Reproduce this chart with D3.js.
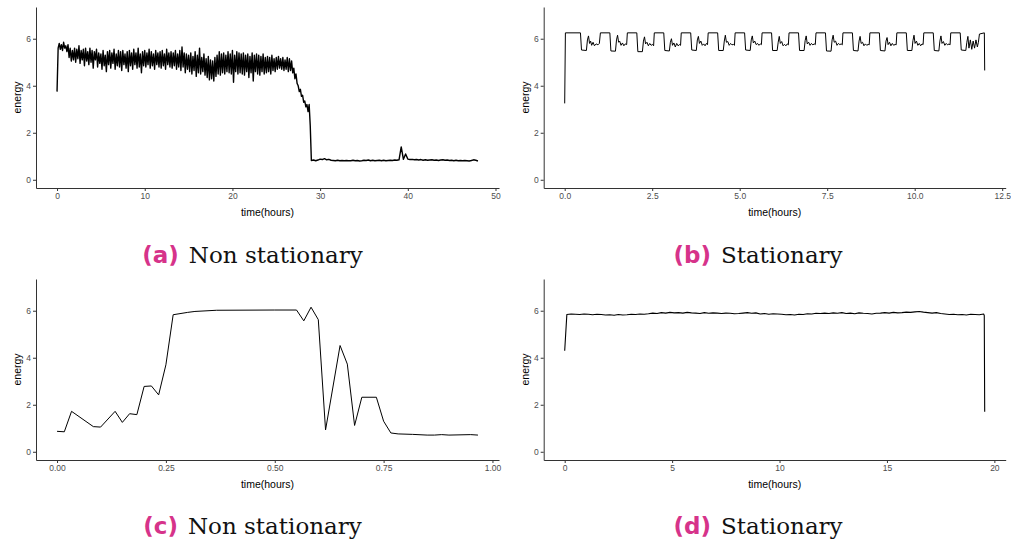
<!DOCTYPE html>
<html>
<head>
<meta charset="utf-8">
<script src="https://cdn.jsdelivr.net/npm/d3@7"></script>
<style>
  html, body { margin: 0; padding: 0; background: #fff; }
  svg { display: block; }
</style>
</head>
<body>
<svg id="chart" width="1011" height="544"></svg>
<script>
// ---------------- DATA ----------------
const yTicks = [0, 2, 4, 6];
const yLimits = [0, 7];

// (a) Non stationary: noisy part sampled every 0.125 h from t = 0
const aNoisyStep = 0.125;
const aNoisyEnergy = [
  3.75, 5.6, 5.8, 5.55, 5.75, 5.5, 5.85, 5.6,
  5.7, 5.45, 5.75, 5.2, 5.6, 5.05, 5.5, 5.1,
  5.6, 5.0, 5.55, 5.15, 5.7, 4.95, 5.5, 5.1,
  5.55, 4.85, 5.6, 5.05, 5.45, 4.9, 5.6, 5.0,
  5.5, 4.75, 5.45, 5.1, 5.55, 4.8, 5.4, 4.95,
  5.35, 4.7, 5.5, 4.85, 5.3, 4.6, 5.45, 4.9,
  5.5, 4.75, 5.4, 4.95, 5.55, 4.7, 5.35, 4.85,
  5.5, 4.8, 5.45, 4.65, 5.5, 4.9, 5.35, 4.75,
  5.45, 4.6, 5.5, 4.85, 5.4, 4.7, 5.55, 4.9,
  5.4, 4.75, 5.6, 4.8, 5.35, 4.55, 5.45, 4.85,
  5.5, 4.8, 5.4, 4.9, 5.55, 4.75, 5.45, 4.85,
  5.35, 4.7, 5.5, 4.9, 5.4, 4.8, 5.45, 4.75,
  5.5, 4.85, 5.35, 4.7, 5.55, 4.9, 5.4, 4.8,
  5.45, 4.75, 5.4, 4.85, 5.5, 4.7, 5.35, 4.8,
  5.5, 4.65, 5.65, 4.8, 5.4, 4.55, 5.35, 4.7,
  5.3, 4.6, 5.4, 4.5, 5.25, 4.65, 5.45, 4.4,
  5.3, 4.55, 5.6, 4.5, 5.2, 4.6, 5.35, 4.45,
  5.15, 4.35, 5.25, 4.25, 5.1, 4.3, 5.05, 4.2,
  5.2, 4.4, 5.3, 4.5, 5.45, 4.45, 5.35, 4.55,
  5.4, 4.5, 5.3, 4.6, 5.45, 4.55, 5.35, 4.5,
  5.5, 4.15, 5.3, 4.6, 5.45, 4.5, 5.4, 4.55,
  5.35, 4.5, 5.4, 4.45, 5.3, 4.6, 5.35, 4.35,
  5.25, 4.55, 5.4, 4.2, 5.3, 4.6, 5.35, 4.5,
  5.3, 4.45, 5.25, 4.6, 5.35, 4.5, 5.2, 4.55,
  5.25, 4.6, 5.2, 4.5, 5.3, 4.65, 5.15, 4.6,
  5.2, 4.7, 5.25, 4.75, 5.15, 4.7, 5.2, 4.65,
  5.1, 4.7, 5.2, 4.6, 5.15, 4.65, 5.05, 4.55,
  4.75, 4.3, 4.5, 4.1, 4.0, 3.75, 3.85, 3.55,
  3.6, 3.3, 3.35, 3.1, 3.2, 2.9, 3.2, 2.3,
  0.85
];
// (a) flat part sampled every 0.25 h from t = 29
const aFlatStart = 29;
const aFlatStep = 0.25;
const aFlatEnergy = [
  0.82, 0.84, 0.81, 0.84, 0.88, 0.86, 0.9, 0.85,
  0.87, 0.83, 0.82, 0.81, 0.83, 0.81, 0.82, 0.81,
  0.82, 0.81, 0.81, 0.83, 0.81, 0.82, 0.8, 0.81,
  0.83, 0.82, 0.84, 0.81, 0.83, 0.81, 0.82, 0.83,
  0.81, 0.83, 0.81, 0.82, 0.83, 0.82, 0.84, 0.83,
  0.85, 1.4, 0.87, 1.1, 0.88, 0.86, 0.87, 0.85,
  0.86, 0.84, 0.86, 0.83, 0.85, 0.83, 0.84, 0.85,
  0.83, 0.84, 0.82, 0.84, 0.85, 0.83, 0.84, 0.82,
  0.83, 0.81, 0.83, 0.81, 0.82, 0.81, 0.82, 0.81,
  0.8, 0.82, 0.85, 0.83, 0.8
];
const aXTicks = [0, 10, 20, 30, 40, 50];

// (b) Stationary
const bTime = [
  0.00, 0.02, 0.45, 0.48, 0.62, 0.65, 0.68, 0.71, 0.74, 0.77, 0.81, 0.85, 0.90, 0.95, 0.99,
  1.02, 1.29, 1.32, 1.45, 1.48, 1.51, 1.54, 1.57, 1.61, 1.65, 1.69, 1.73, 1.77,
  1.79, 2.06, 2.09, 2.22, 2.25, 2.28, 2.31, 2.35, 2.39, 2.43, 2.47, 2.51, 2.54,
  2.56, 2.83, 2.86, 2.99, 3.02, 3.05, 3.08, 3.12, 3.16, 3.20, 3.24, 3.28, 3.31,
  3.33, 3.60, 3.63, 3.76, 3.79, 3.82, 3.85, 3.89, 3.93, 3.97, 4.01, 4.05, 4.08,
  4.10, 4.37, 4.40, 4.53, 4.56, 4.59, 4.62, 4.66, 4.70, 4.74, 4.78, 4.82, 4.85,
  4.87, 5.14, 5.17, 5.30, 5.33, 5.36, 5.39, 5.43, 5.47, 5.51, 5.55, 5.59, 5.62,
  5.64, 5.91, 5.94, 6.07, 6.10, 6.13, 6.16, 6.20, 6.24, 6.28, 6.32, 6.36, 6.39,
  6.41, 6.68, 6.71, 6.84, 6.87, 6.90, 6.93, 6.97, 7.01, 7.05, 7.09, 7.13, 7.16,
  7.18, 7.45, 7.48, 7.61, 7.64, 7.67, 7.70, 7.74, 7.78, 7.82, 7.86, 7.90, 7.93,
  7.95, 8.22, 8.25, 8.38, 8.41, 8.44, 8.47, 8.51, 8.55, 8.59, 8.63, 8.67, 8.70,
  8.72, 8.99, 9.02, 9.15, 9.18, 9.21, 9.24, 9.28, 9.32, 9.36, 9.40, 9.44, 9.47,
  9.49, 9.76, 9.79, 9.92, 9.95, 9.98, 10.01, 10.05, 10.09, 10.13, 10.17, 10.21, 10.24,
  10.26, 10.53, 10.56, 10.69, 10.72, 10.75, 10.78, 10.82, 10.86, 10.90, 10.94, 10.98, 11.01,
  11.03, 11.30, 11.33, 11.46, 11.49, 11.52, 11.55, 11.59, 11.63, 11.67, 11.71, 11.75, 11.79, 11.82,
  11.85, 11.99, 12.00
];
const bEnergy = [
  3.25, 6.25, 6.25, 5.52, 5.50, 5.95, 6.12, 5.80, 5.90, 5.72, 5.85, 5.70, 5.78, 5.74, 5.80,
  6.25, 6.25, 5.48, 5.47, 5.95, 6.15, 5.85, 5.90, 5.72, 5.82, 5.70, 5.78, 5.75,
  6.25, 6.25, 5.45, 5.45, 5.90, 6.08, 5.78, 5.85, 5.70, 5.80, 5.72, 5.76, 5.70,
  6.25, 6.25, 5.50, 5.48, 5.85, 6.00, 5.72, 5.82, 5.65, 5.80, 5.70, 5.75, 5.72,
  6.25, 6.25, 5.52, 5.50, 5.95, 6.10, 5.80, 5.90, 5.72, 5.78, 5.70, 5.80, 5.75,
  6.25, 6.25, 5.50, 5.50, 5.90, 6.15, 5.85, 5.88, 5.72, 5.80, 5.74, 5.76, 5.72,
  6.25, 6.25, 5.52, 5.50, 5.95, 6.12, 5.82, 5.90, 5.75, 5.80, 5.72, 5.78, 5.75,
  6.25, 6.25, 5.50, 5.50, 5.85, 6.10, 5.80, 5.88, 5.70, 5.76, 5.70, 5.78, 5.74,
  6.25, 6.25, 5.50, 5.50, 5.92, 6.12, 5.78, 5.85, 5.72, 5.80, 5.74, 5.78, 5.75,
  6.25, 6.25, 5.48, 5.47, 5.95, 6.15, 5.85, 5.90, 5.72, 5.80, 5.75, 5.78, 5.74,
  6.25, 6.25, 5.50, 5.48, 5.90, 6.10, 5.80, 5.85, 5.70, 5.78, 5.72, 5.76, 5.74,
  6.25, 6.25, 5.50, 5.48, 5.90, 6.05, 5.75, 5.85, 5.70, 5.80, 5.72, 5.76, 5.74,
  6.25, 6.25, 5.50, 5.50, 5.92, 6.15, 5.80, 5.90, 5.72, 5.80, 5.70, 5.78, 5.75,
  6.25, 6.25, 5.50, 5.48, 5.90, 6.12, 5.80, 5.88, 5.72, 5.80, 5.74, 5.78, 5.74,
  6.25, 6.25, 5.52, 5.50, 5.85, 6.10, 5.60, 5.95, 5.55, 5.90, 5.60, 5.95, 5.65, 5.85,
  6.20, 6.25, 4.65
];
const bXTicks = [0, 2.5, 5, 7.5, 10, 12.5];

// (c) Non stationary, sampled in minutes
const cMinutes = [0, 1, 2, 5, 6, 8, 9, 10, 11, 12, 13, 14, 15, 16, 18, 19, 22, 30, 33, 34, 35, 36, 37, 39, 40, 41, 42, 44, 45, 46, 47, 49, 51, 52, 53, 54, 57, 58];
const cEnergy  = [0.87, 0.85, 1.72, 1.07, 1.05, 1.72, 1.25, 1.62, 1.58, 2.78, 2.80, 2.42, 3.70, 5.83, 5.93, 5.97, 6.02, 6.03, 6.03, 5.57, 6.15, 5.62, 0.93, 4.52, 3.73, 1.12, 2.32, 2.32, 1.30, 0.80, 0.76, 0.74, 0.71, 0.71, 0.73, 0.71, 0.73, 0.71];
const cXTicks = [0, 0.25, 0.5, 0.75, 1.0];

// (d) Stationary: first point, body sampled every 0.2 h from t = 0.1, then end points
const dHead = [[0, 4.3]];
const dBodyStart = 0.1;
const dBodyStep = 0.2;
const dBodyEnergy = [
  5.84, 5.86, 5.85, 5.84, 5.86, 5.85, 5.83, 5.85, 5.84, 5.82,
  5.83, 5.81, 5.84, 5.82, 5.83, 5.85, 5.84, 5.86, 5.85, 5.87,
  5.90, 5.88, 5.92, 5.90, 5.93, 5.91, 5.92, 5.90, 5.93, 5.91,
  5.90, 5.88, 5.92, 5.89, 5.91, 5.90, 5.88, 5.90, 5.89, 5.87,
  5.88, 5.90, 5.92, 5.89, 5.91, 5.86, 5.88, 5.85, 5.87, 5.86,
  5.85, 5.83, 5.84, 5.82, 5.85, 5.84, 5.87, 5.86, 5.89, 5.88,
  5.90, 5.88, 5.91, 5.89, 5.92, 5.88, 5.90, 5.87, 5.91, 5.89,
  5.88, 5.86, 5.89, 5.90, 5.92, 5.90, 5.93, 5.91, 5.92, 5.94,
  5.93, 5.95, 5.97, 5.94, 5.92, 5.90, 5.92, 5.88, 5.86, 5.84,
  5.85, 5.83, 5.84, 5.82, 5.85, 5.84, 5.83, 5.86
];
const dTail = [[19.53, 5.8], [19.55, 1.7]];
const dXTicks = [0, 5, 10, 15, 20];

const captionLetters = ["(a)", "(b)", "(c)", "(d)"];
const captionTexts = ["Non stationary", "Stationary", "Non stationary", "Stationary"];
const xTitle = "time(hours)";
const yTitle = "energy";

// ---------------- BUILD SERIES ----------------
const seriesA = aNoisyEnergy.map((v, i) => [i * aNoisyStep, v])
  .concat(aFlatEnergy.map((v, i) => [aFlatStart + i * aFlatStep, v]));
const seriesB = bTime.map((t, i) => [t, bEnergy[i]]);
const seriesC = cMinutes.map((m, i) => [m / 60, cEnergy[i]]);
const seriesD = dHead.concat(dBodyEnergy.map((v, i) => [dBodyStart + i * dBodyStep, v]), dTail);

// ---------------- LAYOUT ----------------
const svg = d3.select("#chart");
const sansFont = "'Liberation Sans', Arial, Helvetica, sans-serif";

const panels = [
  { data: seriesA, ticks: aXTicks, fmt: d3.format("d"),   left: 36,    right: 499,    top: 7,   bottom: 188, cx: 252.5, capY: 263, lw: 1.4 },
  { data: seriesB, ticks: bXTicks, fmt: d3.format(".1f"), left: 543.7, right: 1005.7, top: 7,   bottom: 188, cx: 758,   capY: 263, lw: 1 },
  { data: seriesC, ticks: cXTicks, fmt: d3.format(".2f"), left: 36,    right: 499,    top: 279, bottom: 460, cx: 252.5, capY: 534, lw: 1 },
  { data: seriesD, ticks: dXTicks, fmt: d3.format("d"),   left: 543.7, right: 1005.7, top: 279, bottom: 460, cx: 758,   capY: 534, lw: 1.1 }
];

function expand(lo, hi, f) {
  const d = (hi - lo) * f;
  return [lo - d, hi + d];
}

panels.forEach((p, idx) => {
  const xExt = d3.extent(p.data, d => d[0]);
  const x = d3.scaleLinear().domain(expand(xExt[0], xExt[1], 0.05)).range([p.left, p.right]);
  const y = d3.scaleLinear().domain(expand(yLimits[0], yLimits[1], 0.05)).range([p.bottom, p.top]);

  const g = svg.append("g");

  // data line
  g.append("path")
    .datum(p.data)
    .attr("fill", "none")
    .attr("stroke", "#000")
    .attr("stroke-width", p.lw)
    .attr("stroke-linejoin", "round")
    .attr("d", d3.line().x(d => x(d[0])).y(d => y(d[1])));

  // x axis
  const xAxis = g.append("g")
    .attr("transform", `translate(0,${p.bottom})`)
    .call(d3.axisBottom(x).tickValues(p.ticks).tickFormat(p.fmt).tickSize(3).tickPadding(2).tickSizeOuter(0));
  // y axis
  const yAxis = g.append("g")
    .attr("transform", `translate(${p.left},0)`)
    .call(d3.axisLeft(y).tickValues(yTicks).tickFormat(d3.format("d")).tickSize(3).tickPadding(2).tickSizeOuter(0));

  [xAxis, yAxis].forEach(ax => {
    ax.select(".domain").attr("stroke", "#333").attr("stroke-width", 1);
    ax.selectAll(".tick line").attr("stroke", "#333").attr("stroke-width", 1);
    ax.selectAll(".tick text").attr("fill", "#4d4d4d").style("font-family", sansFont).style("font-size", "8.5px");
  });

  // axis titles
  g.append("text")
    .attr("x", (p.left + p.right) / 2)
    .attr("y", p.bottom + 28)
    .attr("text-anchor", "middle")
    .style("font-family", sansFont)
    .style("font-size", "10.5px")
    .attr("fill", "#000")
    .text(xTitle);

  g.append("text")
    .attr("transform", `translate(${p.left - 15},${(p.top + p.bottom) / 2}) rotate(-90)`)
    .attr("text-anchor", "middle")
    .style("font-family", sansFont)
    .style("font-size", "10.5px")
    .attr("fill", "#000")
    .text(yTitle);

  // caption
  const cap = svg.append("text")
    .attr("x", p.cx)
    .attr("y", p.capY)
    .attr("text-anchor", "middle")
    .style("font-size", "23px");
  cap.append("tspan")
    .style("font-family", "'DejaVu Sans', sans-serif")
    .style("font-weight", "bold")
    .attr("fill", "#d6338a")
    .text(captionLetters[idx]);
  cap.append("tspan")
    .style("font-family", "'DejaVu Serif', serif")
    .attr("fill", "#111")
    .attr("dx", 10)
    .text(captionTexts[idx]);
});
</script>
</body>
</html>
